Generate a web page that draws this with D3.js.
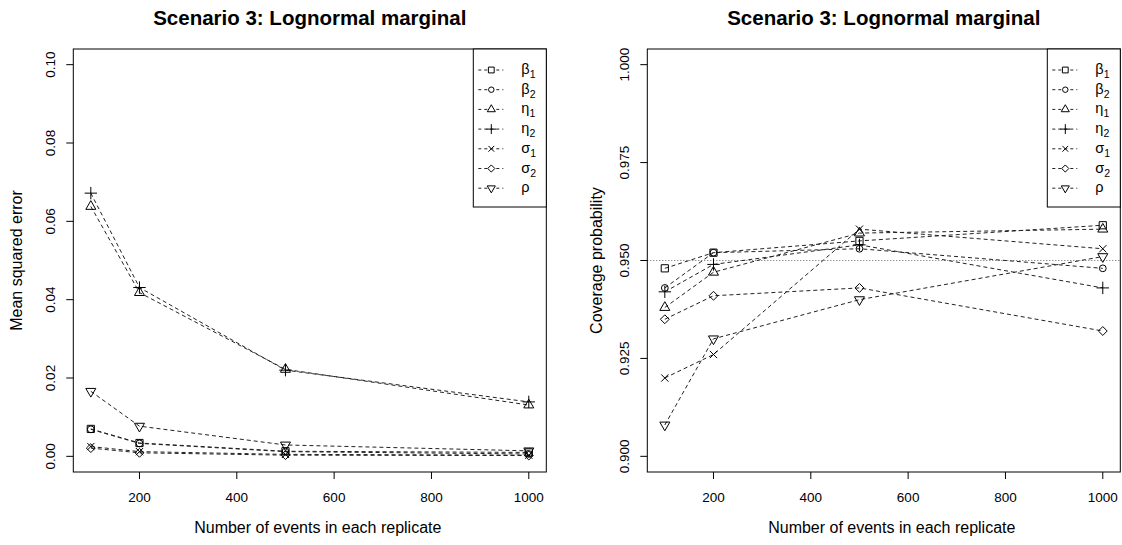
<!DOCTYPE html>
<html>
<head>
<meta charset="utf-8">
<script src="https://cdn.jsdelivr.net/npm/d3@7"></script>
<style>
  body { margin: 0; background: #fff; }
  svg { display: block; font-family: "Liberation Sans", Arial, sans-serif; }
</style>
</head>
<body>
<div id="chart"></div>
<script>
// sample sizes on the x axis
var nEvents = [100, 200, 500, 1000];

// parameter names: greek letter + subscript
var paramNames = ["β", "β", "η", "η", "σ", "σ", "ρ"];
var paramSubs = ["1", "2", "1", "2", "1", "2", ""];

// mean squared error, one array per parameter
var mseBeta1 = [0.0070, 0.0034, 0.0013, 0.0010];
var mseBeta2 = [0.0069, 0.0033, 0.0012, 0.0006];
var mseEta1 = [0.0638, 0.0418, 0.0222, 0.0131];
var mseEta2 = [0.0672, 0.0431, 0.0220, 0.0139];
var mseSigma1 = [0.0025, 0.0012, 0.0005, 0.0003];
var mseSigma2 = [0.0021, 0.0009, 0.0003, 0.0002];
var mseRho = [0.0166, 0.0077, 0.0029, 0.0014];

// coverage probability, one array per parameter
var covBeta1 = [0.948, 0.952, 0.955, 0.959];
var covBeta2 = [0.943, 0.952, 0.953, 0.948];
var covEta1 = [0.938, 0.947, 0.957, 0.958];
var covEta2 = [0.942, 0.949, 0.954, 0.943];
var covSigma1 = [0.920, 0.926, 0.958, 0.953];
var covSigma2 = [0.935, 0.941, 0.943, 0.932];
var covRho = [0.908, 0.930, 0.940, 0.951];

var xTicks = [200, 400, 600, 800, 1000];
var mseTicks = [0, 0.02, 0.04, 0.06, 0.08, 0.10];
var covTicks = [0.900, 0.925, 0.950, 0.975, 1.000];

var W = 1122, H = 545;
var plotTop = 49, plotBottom = 472, plotWidth = 473;

// R-like plotting symbols: pch 0..6
var symbols = [
  {type: d3.symbolSquare2, size: 66},
  {type: d3.symbolCircle, size: 36},
  {type: d3.symbolTriangle2, size: 72},
  {type: d3.symbolPlus, size: 52},
  {type: d3.symbolTimes || d3.symbolX, size: 36},
  {type: d3.symbolDiamond2, size: 50},
  {type: d3.symbolTriangle2, size: 72, flip: true}
];

var svg = d3.select("#chart").append("svg")
  .attr("width", W)
  .attr("height", H);

var draw_panel = function(opts) {
  var left = opts.left;
  var x = d3.scaleLinear().domain([64, 1036]).range([left, left + plotWidth]);
  var y = d3.scaleLinear().domain(opts.ydomain).range([plotBottom, plotTop]);
  var g = svg.append("g");

  // title
  g.append("text")
    .attr("x", left + plotWidth / 2)
    .attr("y", 25)
    .attr("text-anchor", "middle")
    .style("font-weight", "bold")
    .style("font-size", "20.5px")
    .text("Scenario 3: Lognormal marginal");

  // axis titles
  g.append("text")
    .attr("x", left + plotWidth / 2 + 8)
    .attr("y", 533)
    .attr("text-anchor", "middle")
    .style("font-size", "16px")
    .text("Number of events in each replicate");

  g.append("text")
    .attr("transform", "translate(" + (left - opts.ylabOff) + "," + ((plotTop + plotBottom) / 2) + ") rotate(-90)")
    .attr("text-anchor", "middle")
    .style("font-size", "16px")
    .text(opts.ylabel);

  // x axis ticks
  g.selectAll(".xt").data(xTicks).enter().append("line")
    .attr("x1", function(d) { return x(d); })
    .attr("x2", function(d) { return x(d); })
    .attr("y1", plotBottom)
    .attr("y2", plotBottom + 7)
    .style("stroke", "#000");
  g.selectAll(".xl").data(xTicks).enter().append("text")
    .attr("x", function(d) { return x(d); })
    .attr("y", 502)
    .attr("text-anchor", "middle")
    .style("font-size", "13.5px")
    .text(function(d) { return d; });

  // y axis ticks
  g.selectAll(".yt").data(opts.yticks).enter().append("line")
    .attr("x1", left)
    .attr("x2", left - 7)
    .attr("y1", function(d) { return y(d); })
    .attr("y2", function(d) { return y(d); })
    .style("stroke", "#000");
  g.selectAll(".yl").data(opts.yticks).enter().append("text")
    .attr("transform", function(d) { return "translate(" + (left - 18) + "," + y(d) + ") rotate(-90)"; })
    .attr("text-anchor", "middle")
    .style("font-size", "13.5px")
    .text(function(d) { return d3.format(opts.yfmt)(d); });

  // reference line
  if (opts.refline != null) {
    g.append("line")
      .attr("x1", left)
      .attr("x2", left + plotWidth)
      .attr("y1", y(opts.refline))
      .attr("y2", y(opts.refline))
      .style("stroke", "#666")
      .style("stroke-width", 1)
      .style("stroke-dasharray", "1,2");
  }

  var line = d3.line()
    .x(function(d, i) { return x(nEvents[i]); })
    .y(function(d) { return y(d); });

  opts.series.forEach(function(vals, k) {
    g.append("path")
      .datum(vals)
      .attr("d", line)
      .style("fill", "none")
      .style("stroke", "#222")
      .style("stroke-width", 1)
      .style("stroke-dasharray", "4,3");
    var sym = symbols[k];
    g.selectAll(".pt" + k).data(vals).enter().append("path")
      .attr("d", d3.symbol().type(sym.type).size(sym.size))
      .attr("transform", function(d, i) {
        return "translate(" + x(nEvents[i]) + "," + y(d) + ")" + (sym.flip ? " rotate(180)" : "");
      })
      .style("fill", "none")
      .style("stroke", "#000")
      .style("stroke-width", 1);
  });

  // plot box
  g.append("rect")
    .attr("x", left)
    .attr("y", plotTop)
    .attr("width", plotWidth)
    .attr("height", plotBottom - plotTop)
    .style("fill", "none")
    .style("stroke", "#000");

  // legend
  var lgX = left + plotWidth - 73;
  var lg = g.append("g");
  lg.append("rect")
    .attr("x", lgX)
    .attr("y", plotTop)
    .attr("width", 73)
    .attr("height", 158)
    .style("fill", "#fff")
    .style("stroke", "#000");
  paramNames.forEach(function(name, k) {
    var ry = 70 + k * 19.7;
    lg.append("line")
      .attr("x1", lgX + 5)
      .attr("x2", lgX + 30)
      .attr("y1", ry)
      .attr("y2", ry)
      .style("stroke", "#222")
      .style("stroke-dasharray", "3,3");
    var sym = symbols[k];
    lg.append("path")
      .attr("d", d3.symbol().type(sym.type).size(sym.size * 0.65))
      .attr("transform", "translate(" + (lgX + 18) + "," + ry + ")" + (sym.flip ? " rotate(180)" : ""))
      .style("fill", "#fff")
      .style("stroke", "#000");
    var t = lg.append("text")
      .attr("x", lgX + 48)
      .attr("y", ry + 4)
      .style("font-size", "14.5px")
      .text(name);
    t.append("tspan")
      .attr("dy", 4)
      .style("font-size", "10.5px")
      .text(paramSubs[k]);
  });
};

var main = function() {
  draw_panel({
    left: 73.3,
    ydomain: [-0.004, 0.104],
    yticks: mseTicks,
    yfmt: ".2f",
    ylabel: "Mean squared error",
    ylabOff: 51,
    series: [mseBeta1, mseBeta2, mseEta1, mseEta2, mseSigma1, mseSigma2, mseRho],
    refline: null
  });
  draw_panel({
    left: 647.3,
    ydomain: [0.896, 1.004],
    yticks: covTicks,
    yfmt: ".3f",
    ylabel: "Coverage probability",
    ylabOff: 45,
    series: [covBeta1, covBeta2, covEta1, covEta2, covSigma1, covSigma2, covRho],
    refline: 0.95
  });
};

main();
</script>
</body>
</html>
